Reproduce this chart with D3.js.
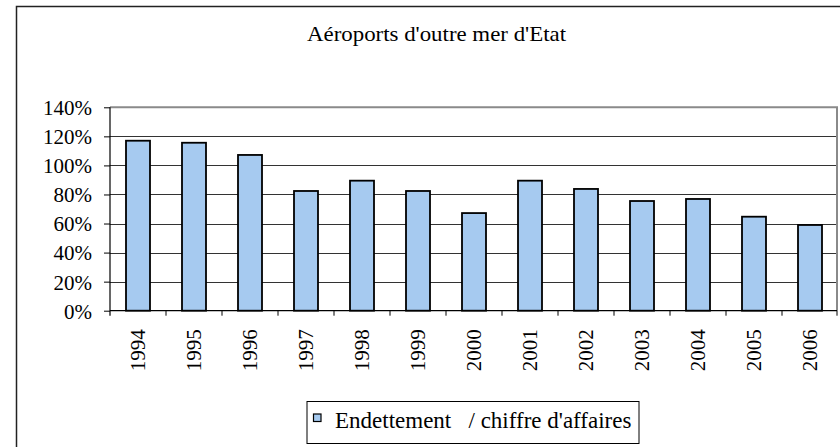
<!DOCTYPE html>
<html>
<head>
<meta charset="utf-8">
<script src="https://cdn.jsdelivr.net/npm/d3@7"></script>
<style>
  html, body { margin: 0; padding: 0; background: #fff; }
  svg { display: block; }
</style>
</head>
<body>
<svg id="chart" width="840" height="447"></svg>
<script>
// Ratio endettement / chiffre d'affaires, en %
const years = ["1994","1995","1996","1997","1998","1999","2000","2001","2002","2003","2004","2005","2006"];
const ratio = [117, 115.6, 107.2, 82.4, 89.5, 82.4, 67.2, 89.5, 83.8, 75.5, 76.9, 64.7, 59];
const yTicks = [0, 20, 40, 60, 80, 100, 120, 140];
const chartTitle = "Aéroports d'outre mer d'Etat";
const seriesName = "Endettement   / chiffre d'affaires";

const FONT = '"Liberation Serif"';
const svg = d3.select("#chart");
const plot = { left: 110, right: 837, top: 107.3, bottom: 310.7 };

// Outer chart frame
svg.append("rect")
  .attr("x", 16.5).attr("y", 6.5)
  .attr("width", 900).attr("height", 500)
  .attr("fill", "#fff").attr("stroke", "#222").attr("stroke-width", 1.5);

svg.append("text")
  .attr("x", 436.5).attr("y", 40.5)
  .attr("text-anchor", "middle")
  .attr("textLength", 259)
  .attr("lengthAdjust", "spacingAndGlyphs")
  .style("font-family", FONT)
  .style("font-size", "22px")
  .text(chartTitle);

const x = d3.scaleBand()
  .domain(years)
  .range([plot.left, plot.left + 56 * years.length])
  .paddingInner(32 / 56)
  .paddingOuter(16 / 56);

const y = d3.scaleLinear().domain([0, 140]).range([plot.bottom, plot.top]);

// Horizontal gridlines
svg.append("g")
  .selectAll("line")
  .data(yTicks.filter(d => d > 0 && d < 140))
  .join("line")
  .attr("x1", plot.left).attr("x2", plot.right)
  .attr("y1", d => Math.round(y(d)) + 0.5).attr("y2", d => Math.round(y(d)) + 0.5)
  .attr("stroke", "#333").attr("stroke-width", 1);

// Plot area top and right edges
svg.append("path")
  .attr("d", `M${plot.left},${plot.top} H${plot.right} V${plot.bottom}`)
  .attr("fill", "none").attr("stroke", "#8a8a8a").attr("stroke-width", 2);

// Bars
svg.append("g")
  .selectAll("rect")
  .data(years.map((yr, i) => ({ yr, v: ratio[i] })))
  .join("rect")
  .attr("x", d => x(d.yr))
  .attr("y", d => y(d.v))
  .attr("width", x.bandwidth())
  .attr("height", d => y(0) - y(d.v))
  .attr("fill", "#a6caf0")
  .attr("stroke", "#000").attr("stroke-width", 1.8);

// Y axis
const yAxis = d3.axisLeft(y)
  .tickValues(yTicks)
  .tickSize(6)
  .tickPadding(12)
  .tickFormat(d => d + "%");
const gy = svg.append("g").attr("transform", `translate(${plot.left},0)`).call(yAxis);
gy.attr("font-family", null).attr("font-size", null);
gy.select(".domain").attr("d", `M0,${plot.top}V${plot.bottom + 5}`).attr("stroke", "#000").attr("stroke-width", 1.2);
gy.selectAll(".tick line").attr("stroke", "#000");
gy.selectAll(".tick text")
  .style("font-family", FONT)
  .style("font-size", "21px")
  .attr("fill", "#000")
  .attr("dy", "0.35em");

// X axis: ticks between categories
const gx = svg.append("g").attr("transform", `translate(0,${plot.bottom})`);
gx.append("line")
  .attr("x1", plot.left).attr("x2", plot.right)
  .attr("y1", 0).attr("y2", 0)
  .attr("stroke", "#000").attr("stroke-width", 1.2);
const boundaries = years.map(yr => x(yr) - x.step() * x.paddingOuter()).concat([x.range()[1]]);
gx.selectAll("line.tk")
  .data(boundaries.slice(1))
  .join("line").attr("class", "tk")
  .attr("x1", d => Math.min(d, plot.right)).attr("x2", d => Math.min(d, plot.right))
  .attr("y1", 0).attr("y2", 5)
  .attr("stroke", "#000");
gx.selectAll("text")
  .data(years)
  .join("text")
  .attr("transform", d => `translate(${x(d) + x.bandwidth() / 2},18.5) rotate(-90)`)
  .attr("text-anchor", "end")
  .attr("dy", "0.35em")
  .style("font-family", FONT)
  .style("font-size", "21px")
  .text(d => d);

// Legend
const lg = svg.append("g");
lg.append("rect")
  .attr("x", 307).attr("y", 401.5)
  .attr("width", 332).attr("height", 42)
  .attr("fill", "#fff").attr("stroke", "#000").attr("stroke-width", 1);
lg.append("rect")
  .attr("x", 313.5).attr("y", 414)
  .attr("width", 7.5).attr("height", 7.5)
  .attr("fill", "#a6caf0").attr("stroke", "#000").attr("stroke-width", 1.2);
lg.append("text")
  .attr("x", 335).attr("y", 428)
  .attr("xml:space", "preserve")
  .style("white-space", "pre")
  .style("font-family", FONT)
  .style("font-size", "23px")
  .text(seriesName);
</script>
</body>
</html>
